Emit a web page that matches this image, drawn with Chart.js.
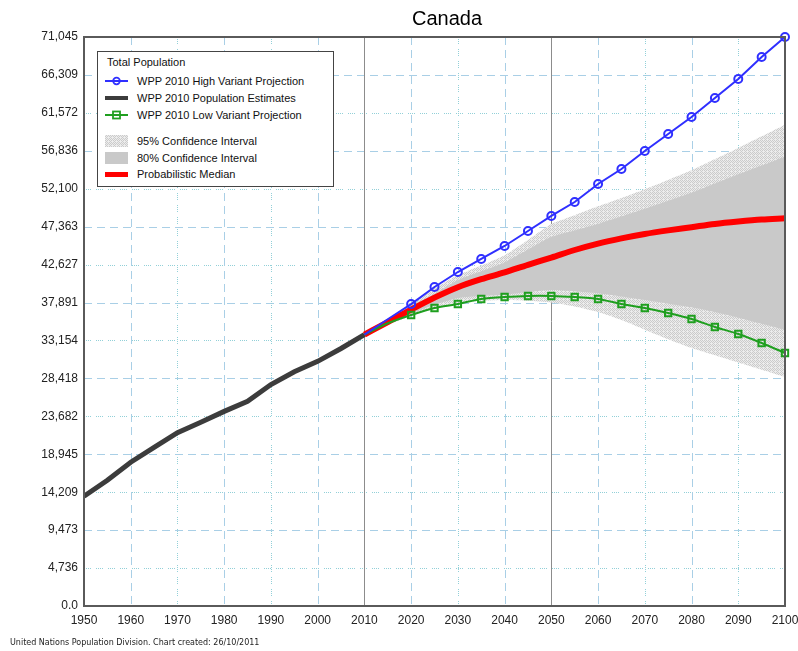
<!DOCTYPE html>
<html>
<head>
<meta charset="utf-8">
<title>Canada</title>
<script src="https://cdn.jsdelivr.net/npm/chart.js@4.4.0/dist/chart.umd.min.js"></script>
<style>
html,body{margin:0;padding:0;background:#fff;}
#wrap{position:relative;width:798px;height:651px;}
#title{position:absolute;left:347px;top:8px;width:200px;text-align:center;font:20px/20px "Liberation Sans",Arial,sans-serif;color:#000;}
#footer{position:absolute;left:10px;top:638px;font:8px/10px "DejaVu Sans",Verdana,sans-serif;color:#222;white-space:nowrap;}
#legend{position:absolute;left:97px;top:51px;width:235px;height:134px;border:1px solid #444;background:#fff;
  font:11px/14px "Liberation Sans",Arial,sans-serif;color:#111;}
#legend .hd{position:absolute;left:9px;top:3px;}
#legend .row{position:absolute;left:7px;height:14px;display:flex;align-items:center;white-space:nowrap;}
#legend svg{width:23px;height:14px;margin-right:9px;flex:none;}
</style>
</head>
<body>
<div id="wrap">
  <canvas id="c"></canvas>
  <div id="title"></div>
  <div id="legend"></div>
  <div id="footer"></div>
</div>
<script>
'use strict';

/* ---------- Daten (Tausend Personen) ---------- */
const TITLE = 'Canada';
const FOOTER = 'United Nations Population Division. Chart created: 26/10/2011';
const LEGEND_TITLE = 'Total Population';

const estYears  = [1950,1955,1960,1965,1970,1975,1980,1985,1990,1995,2000,2005,2010];
const estimates = [13700,15700,17950,19800,21650,22950,24300,25550,27650,29250,30550,32150,33890];

const projYears = [2010,2015,2020,2025,2030,2035,2040,2045,2050,2055,2060,2065,2070,2075,2080,2085,2090,2095,2100];
const high      = [33890,35800,37700,39830,41700,43330,44950,46820,48700,50440,52690,54560,56810,58930,61060,63430,65800,68550,71045];
const low       = [33890,35300,36330,37210,37710,38330,38580,38710,38710,38580,38330,37710,37210,36580,35840,34840,33960,32840,31590];
const median    = [33890,35450,37000,38500,39800,40800,41650,42600,43500,44450,45250,45900,46450,46900,47300,47700,48000,48250,48400];
const upper80   = [33890,35600,37500,39000,40700,41800,42900,44500,46100,46900,47700,48650,49600,50600,51600,52750,53900,55000,56100];
const lower80   = [33890,35200,36500,37600,38450,38700,38850,39200,39450,39300,39050,38650,38200,37750,37300,36700,36000,35250,34500];
const upper95   = [33890,35700,37900,39700,41300,42500,43800,45700,47700,48800,49900,50950,52050,53200,54400,55800,57200,58650,60100];
const lower95   = [33890,35100,36200,37200,37800,38100,38200,38100,37900,37400,36700,35700,34500,33300,32200,31300,30400,29500,28600];

const xTickLabels = ['1950','1960','1970','1980','1990','2000','2010','2020','2030','2040','2050','2060','2070','2080','2090','2100'];
const yTickLabels = ['0.0','4,736','9,473','14,209','18,945','23,682','28,418','33,154','37,891','42,627','47,363','52,100','56,836','61,572','66,309','71,045'];
const markYears   = [2010, 2050];   // durchgezogene graue Linien

const LEGEND = [
  {key:'high', text:'WPP 2010 High Variant Projection'},
  {key:'est',  text:'WPP 2010 Population Estimates'},
  {key:'low',  text:'WPP 2010 Low Variant Projection'},
  {key:'c95',  text:'95% Confidence Interval'},
  {key:'c80',  text:'80% Confidence Interval'},
  {key:'med',  text:'Probabilistic Median'}
];

/* ---------- Farben ---------- */
const C = { high:'#2f2fff', low:'#1f9f1f', med:'#ff0000', est:'#3c3c3c', c80:'#c9c9c9' };
const FONT = '"Liberation Sans", Arial, sans-serif';

const pts = (xs, ys) => xs.map((x,i)=>({x, y:ys[i]}));
const yVal = (l) => +l.replace(/,/g,'');

// Rautenmuster fuer das 95%-Band
const HATCH_DOTS = [[0,0],[2,0],[1,1],[3,1],[0,2],[2,2],[1,3]];
function hatch(){
  const cv=document.createElement('canvas'); cv.width=cv.height=4;
  const g=cv.getContext('2d');
  g.fillStyle='#ececec'; g.fillRect(0,0,4,4);
  g.fillStyle='#cbcbcb';
  HATCH_DOTS.forEach(([a,b])=>g.fillRect(a,b,1,1));
  return g.createPattern(cv,'repeat');
}
const HATCH = hatch();

// Marker erst ab 2020 sichtbar
const marker = (r) => (ctx) => (ctx.raw && ctx.raw.x >= 2020) ? r : 0;

/* ---------- Plugins: Gitter + Rahmen ---------- */
const gridPlugin = {
  id:'grid',
  beforeDatasetsDraw(chart){
    const {ctx, chartArea:a, scales:{x,y}} = chart;
    ctx.save(); ctx.lineWidth=1;
    const style = (i) => {
      if(i%2===0){ ctx.strokeStyle='#a9cfe6'; ctx.setLineDash([8,5]); }
      else       { ctx.strokeStyle='#92d0d8'; ctx.setLineDash([1,1,1,1,1,1,1,5]); }
    };
    y.ticks.forEach((t,i)=>{
      if(i===0 || i===y.ticks.length-1) return;
      const py=Math.round(y.getPixelForValue(t.value))+0.5;
      style(i); ctx.beginPath(); ctx.moveTo(a.left,py); ctx.lineTo(a.right,py); ctx.stroke();
    });
    x.ticks.forEach((t,i)=>{
      if(i===0 || i===x.ticks.length-1) return;
      const px=Math.round(x.getPixelForValue(t.value))+0.5;
      if(markYears.includes(t.value)){ ctx.strokeStyle='#8c8c8c'; ctx.setLineDash([]); }
      else style(i+1);
      ctx.beginPath(); ctx.moveTo(px,a.top); ctx.lineTo(px,a.bottom); ctx.stroke();
    });
    ctx.restore();
  },
  afterDatasetsDraw(chart){
    const {ctx, chartArea:a} = chart;
    ctx.save(); ctx.strokeStyle='#5a5a5a'; ctx.lineWidth=2;
    ctx.strokeRect(a.left, a.top, a.right-a.left, a.bottom-a.top);
    ctx.restore();
  }
};

/* ---------- Chart ---------- */
const band = (label, data, fill, bg) => ({
  label, data:pts(projYears,data), fill, backgroundColor:bg,
  borderColor:'rgba(0,0,0,0)', borderWidth:0, pointRadius:0, tension:0.2
});

new Chart(document.getElementById('c'), {
  type:'line',
  data:{ datasets:[
    { label:'WPP 2010 High Variant Projection', data:pts(projYears,high), borderColor:C.high, borderWidth:2,
      pointStyle:'circle', pointRadius:marker(4), pointBorderWidth:2, pointBorderColor:C.high,
      pointBackgroundColor:'rgba(0,0,0,0)', clip:false, fill:false },
    { label:'WPP 2010 Low Variant Projection', data:pts(projYears,low), borderColor:C.low, borderWidth:2,
      pointStyle:'rect', pointRadius:marker(4.5), pointBorderWidth:2, pointBorderColor:C.low,
      pointBackgroundColor:'rgba(0,0,0,0)', clip:false, fill:false, tension:0.2 },
    { label:'Probabilistic Median', data:pts(projYears,median), borderColor:C.med, borderWidth:6,
      pointRadius:0, fill:false, cubicInterpolationMode:'monotone' },
    { label:'WPP 2010 Population Estimates', data:pts(estYears,estimates), borderColor:C.est, borderWidth:5,
      pointRadius:0, fill:false },
    band('80% Confidence Interval', upper80, '+1', C.c80),
    band('80% lower', lower80, false, C.c80),
    band('95% Confidence Interval', upper95, '+1', HATCH),
    band('95% lower', lower95, false, HATCH)
  ]},
  options:{
    responsive:true, maintainAspectRatio:false, animation:false, events:[],
    layout:{ padding:{ top:37, right:13, bottom:0, left:0 } },
    plugins:{ legend:{display:false}, tooltip:{enabled:false}, title:{display:false} },
    scales:{
      x:{ type:'linear', min:1950, max:2100,
        grid:{display:false, drawTicks:false}, border:{display:false},
        afterBuildTicks:(ax)=>{ ax.ticks = xTickLabels.map(l=>({value:+l})); },
        ticks:{ callback:(v,i)=>xTickLabels[i], padding:7, color:'#222', autoSkip:false, maxRotation:0,
          font:{ family:FONT, size:12 } },
        afterFit:(ax)=>{ ax.height=45; ax.paddingLeft=0; ax.paddingRight=0; } },
      y:{ min:0, max:yVal(yTickLabels[yTickLabels.length-1]),
        grid:{display:false, drawTicks:false}, border:{display:false},
        afterBuildTicks:(ax)=>{ ax.ticks = yTickLabels.map(l=>({value:yVal(l)})); },
        ticks:{ callback:(v,i)=>yTickLabels[i], padding:6, color:'#222', autoSkip:false,
          font:{ family:FONT, size:12 } },
        afterFit:(ax)=>{ ax.width=84; ax.paddingTop=0; ax.paddingBottom=0; } }
    }
  },
  plugins:[gridPlugin]
});

/* ---------- Texte + Legende ---------- */
document.getElementById('title').textContent = TITLE;
document.getElementById('footer').textContent = FOOTER;

const hatchSvg = `<defs><pattern id="h" width="4" height="4" patternUnits="userSpaceOnUse"><rect width="4" height="4" fill="#ececec"/>`
  + HATCH_DOTS.map(([a,b])=>`<rect x="${a}" y="${b}" width="1" height="1" fill="#cbcbcb"/>`).join('') + `</pattern></defs>`;
const SWATCH = {
  high:`<line x1="0" y1="7" x2="23" y2="7" stroke="${C.high}" stroke-width="2"/><circle cx="11.5" cy="7" r="3.3" fill="none" stroke="${C.high}" stroke-width="1.8"/>`,
  est: `<rect x="0" y="5" width="23" height="4" fill="${C.est}"/>`,
  low: `<line x1="0" y1="7" x2="23" y2="7" stroke="${C.low}" stroke-width="2"/><rect x="8" y="3.5" width="7" height="7" fill="none" stroke="${C.low}" stroke-width="1.8"/>`,
  c95: `${hatchSvg}<rect x="0" y="1" width="23" height="12" fill="url(#h)"/>`,
  c80: `<rect x="0" y="1" width="23" height="12" fill="${C.c80}"/>`,
  med: `<rect x="0" y="5" width="23" height="5" fill="${C.med}"/>`
};
const ROW_TOP = [22,39,56,82,99,115];
const leg = document.getElementById('legend');
leg.innerHTML = `<div class="hd">${LEGEND_TITLE}</div>` + LEGEND.map((it,i)=>
  `<div class="row" style="top:${ROW_TOP[i]}px"><svg viewBox="0 0 23 14">${SWATCH[it.key]}</svg><span>${it.text}</span></div>`
).join('');
</script>
</body>
</html>
